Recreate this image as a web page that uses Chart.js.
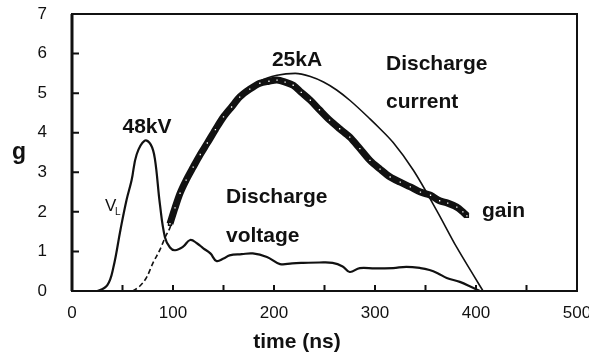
<!DOCTYPE html>
<html>
<head>
<meta charset="utf-8">
<script src="https://cdn.jsdelivr.net/npm/chart.js@4/dist/chart.umd.min.js"></script>
<style>
  html, body { margin: 0; padding: 0; background: #fff; }
</style>
</head>
<body>
<canvas id="chart" width="589" height="358"></canvas>
<script>
// values (time in ns, g on the y axis)
const xTicks = [0, 100, 200, 300, 400, 500];
const yTicks = [0, 1, 2, 3, 4, 5, 6, 7];

const voltageTime = [20, 25, 35, 41, 48, 54, 59, 64, 72, 78, 82, 87, 92, 97, 102, 110, 117, 124, 130, 137, 143, 150, 156, 168, 179, 193, 206, 218, 229, 245, 258, 268, 275, 285, 300, 318, 331, 345, 354, 362, 371, 384, 397, 404];
const voltage = [0, 0, 0.15, 0.6, 1.55, 2.3, 2.8, 3.45, 3.8, 3.7, 3.35, 2.2, 1.36, 1.1, 1.03, 1.12, 1.29, 1.2, 1.08, 0.95, 0.76, 0.82, 0.9, 0.93, 0.95, 0.86, 0.68, 0.7, 0.71, 0.72, 0.71, 0.62, 0.48, 0.58, 0.57, 0.58, 0.61, 0.58, 0.53, 0.45, 0.33, 0.23, 0.08, 0];

const currentTime = [60, 67, 74, 80, 87, 93, 97, 100, 107, 120, 134, 150, 166, 186, 203, 221, 236, 249, 262, 275, 295, 305, 318, 338, 361, 381, 397, 407];
const current = [0, 0.12, 0.35, 0.7, 1.04, 1.4, 1.6, 1.85, 2.4, 3.1, 3.72, 4.4, 4.92, 5.3, 5.45, 5.5, 5.42, 5.28, 5.08, 4.82, 4.35, 4.1, 3.75, 3.05, 2.04, 1.1, 0.42, 0];

const gainTime = [97, 102, 107, 113, 120, 127, 134, 142, 150, 158, 166, 176, 186, 195, 203, 211, 219, 227, 236, 245, 255, 265, 275, 285, 295, 305, 315, 325, 335, 345, 355, 364, 372, 381, 387, 391];
const gain = [1.7, 2.1, 2.47, 2.8, 3.13, 3.45, 3.74, 4.08, 4.4, 4.65, 4.9, 5.1, 5.25, 5.3, 5.33, 5.28, 5.2, 5.02, 4.82, 4.58, 4.32, 4.1, 3.89, 3.6, 3.3, 3.08, 2.88, 2.75, 2.63, 2.5, 2.42, 2.28, 2.22, 2.12, 2.0, 1.9];

const pts = (xs, ys) => xs.map((x, i) => ({ x: x, y: ys[i] }));

const LABEL_FONT = 'bold 21px "Liberation Sans", Arial, sans-serif';

// frame, inward tick marks and the free-standing labels
const annotate = {
  id: 'annotate',
  afterDraw(chart) {
    const ctx = chart.ctx;
    const a = chart.chartArea;
    const xs = chart.scales.x, ys = chart.scales.y;
    ctx.save();
    ctx.strokeStyle = '#111';
    // inward ticks
    ctx.lineWidth = 2;
    ctx.beginPath();
    for (let v = 50; v < 500; v += 50) {
      const px = xs.getPixelForValue(v);
      ctx.moveTo(px, a.bottom);
      ctx.lineTo(px, a.bottom - 6);
    }
    for (let v = 1; v < 7; v++) {
      const py = ys.getPixelForValue(v);
      ctx.moveTo(a.left, py);
      ctx.lineTo(a.left + 7, py);
    }
    ctx.stroke();
    // box
    ctx.lineWidth = 2;
    ctx.strokeRect(a.left, a.top, a.right - a.left, a.bottom - a.top);
    ctx.lineWidth = 3;
    ctx.beginPath();
    ctx.moveTo(a.left, a.top);
    ctx.lineTo(a.left, a.bottom);
    ctx.stroke();

    ctx.fillStyle = '#111';
    ctx.font = LABEL_FONT;
    ctx.textBaseline = 'middle';
    ctx.textAlign = 'center';
    ctx.fillText('48kV', 147, 127);
    ctx.fillText('25kA', 297, 60);
    ctx.fillText('time (ns)', 297, 342);
    ctx.font = 'bold 23px "Liberation Sans", Arial, sans-serif';
    ctx.fillText('g', 19, 153);
    ctx.font = LABEL_FONT;
    ctx.textAlign = 'left';
    ctx.fillText('Discharge', 386, 64);
    ctx.fillText('current', 386, 102);
    ctx.fillText('Discharge', 226, 197);
    ctx.fillText('voltage', 226, 236);
    ctx.fillText('gain', 482, 211);
    ctx.font = '17px "Liberation Sans", Arial, sans-serif';
    ctx.fillText('V', 105, 206);
    ctx.font = '10px "Liberation Sans", Arial, sans-serif';
    ctx.fillText('L', 115, 212);
    ctx.restore();
  }
};

new Chart(document.getElementById('chart'), {
  type: 'line',
  data: {
    datasets: [
      {
        label: 'gain',
        data: pts(gainTime, gain),
        borderColor: '#111',
        borderWidth: 7,
        pointStyle: 'rect',
        pointRadius: 2,
        pointBorderWidth: 1.5,
        pointBackgroundColor: '#fff',
        pointBorderColor: '#111',
        tension: 0.3,
        order: 0
      },
      {
        label: 'Discharge current',
        data: pts(currentTime, current),
        borderColor: '#111',
        borderWidth: 1.6,
        pointRadius: 0,
        cubicInterpolationMode: 'monotone',
        segment: {
          borderDash: c => c.p1.parsed.x <= 100 ? [5, 3] : undefined
        },
        order: 1
      },
      {
        label: 'Discharge voltage',
        data: pts(voltageTime, voltage),
        borderColor: '#111',
        borderWidth: 2.2,
        pointRadius: 0,
        tension: 0.4,
        order: 2
      }
    ]
  },
  options: {
    responsive: false,
    animation: false,
    layout: { padding: { left: 0, right: 12, top: 14, bottom: 0 } },
    plugins: { legend: { display: false }, tooltip: { enabled: false } },
    scales: {
      x: {
        type: 'linear',
        min: 0,
        max: 500,
        afterBuildTicks: s => { s.ticks = xTicks.map(v => ({ value: v })); },
        afterFit: s => { s.height = 67; s.paddingLeft = 0; s.paddingRight = 0; },
        grid: { display: false, drawTicks: false },
        border: { display: false },
        ticks: { padding: 12, maxRotation: 0, color: '#111', font: { family: '"Liberation Sans", Arial, sans-serif', size: 17 } }
      },
      y: {
        type: 'linear',
        min: 0,
        max: 7,
        afterBuildTicks: s => { s.ticks = yTicks.map(v => ({ value: v })); },
        afterFit: s => { s.width = 72; s.paddingTop = 0; s.paddingBottom = 0; },
        grid: { display: false, drawTicks: false },
        border: { display: false },
        ticks: { padding: 25, color: '#111', font: { family: '"Liberation Sans", Arial, sans-serif', size: 17 } }
      }
    }
  },
  plugins: [annotate]
});
</script>
</body>
</html>
